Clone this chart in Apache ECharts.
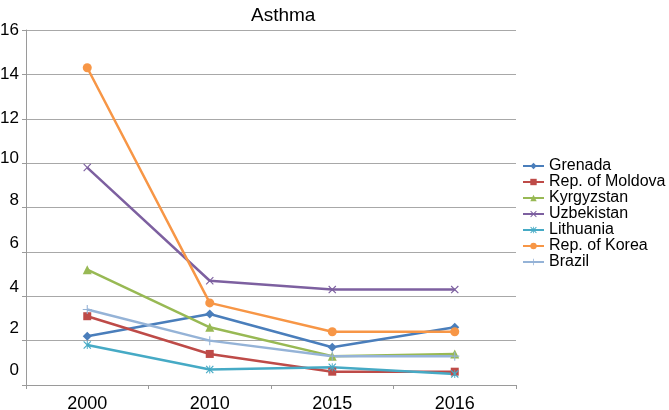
<!DOCTYPE html>
<html>
<head>
<meta charset="utf-8">
<script src="https://cdn.jsdelivr.net/npm/echarts@6/dist/echarts.min.js"></script>
<style>html,body{margin:0;padding:0;background:#fff}#c{width:669px;height:410px}</style>
</head>
<body>
<div id="c"></div>
<script>
var categories = ['2000', '2010', '2015', '2016'];
var grenada = [2.2, 3.2, 1.7, 2.6];
var moldova = [3.1, 1.4, 0.6, 0.6];
var kyrgyzstan = [5.2, 2.6, 1.3, 1.4];
var uzbekistan = [9.8, 4.7, 4.3, 4.3];
var lithuania = [1.8, 0.7, 0.8, 0.5];
var korea = [14.3, 3.7, 2.4, 2.4];
var brazil = [3.4, 2.0, 1.3, 1.3];
var seriesNames = ['Grenada', 'Rep. of Moldova', 'Kyrgyzstan', 'Uzbekistan', 'Lithuania', 'Rep. of Korea', 'Brazil'];
var seriesValues = [grenada, moldova, kyrgyzstan, uzbekistan, lithuania, korea, brazil];

var colors = ['#4a7ebb', '#be4b48', '#98b954', '#7d60a0', '#46aac5', '#f79646', '#95b3d7'];
var X = 'path://M0,1L1,0L5,4L9,0L10,1L6,5L10,9L9,10L5,6L1,10L0,9L4,5Z';
var STAR = 'path://M0,1L1,0L5,4L9,0L10,1L6,5L10,9L9,10L5,6L1,10L0,9L4,5Z M4.4,0H5.6V10H4.4Z';
var PLUS = 'path://M4.4,0H5.6V4.4H10V5.6H5.6V10H4.4V5.6H0V4.4H4.4Z';
var symbols = ['diamond', 'rect', 'triangle', X, STAR, 'circle', PLUS];
var sizes = [9, 8, 9, 8, 8, 9, 9];
var labelShift = {16: 0, 14: 0, 12: 0, 10: 5, 8: 7, 6: 9, 4: 9, 2: 12, 0: 15};
var rich = {};
Object.keys(labelShift).forEach(function (k) {
  rich['o' + k] = { fontSize: 17, color: '#000', fontFamily: 'Liberation Sans', padding: [0, 0, labelShift[k] * 2, 0] };
});

var chart = echarts.init(document.getElementById('c'), null, { renderer: 'canvas' });
chart.setOption({
  animation: false,
  color: colors,
  textStyle: { fontFamily: 'Liberation Sans' },
  title: {
    text: 'Asthma', left: 246, top: 1,
    textStyle: { fontSize: 19, fontWeight: 'normal', color: '#000', fontFamily: 'Liberation Sans' }
  },
  legend: {
    orient: 'vertical', left: 522, top: 158, itemGap: 0, padding: 0,
    itemWidth: 21, itemHeight: 8,
    textStyle: { fontSize: 16, lineHeight: 16, color: '#000', fontFamily: 'Liberation Sans' },
    data: seriesNames
  },
  grid: { left: 26, right: 153, top: 30, bottom: 25, containLabel: false, outerBoundsMode: 'none' },
  xAxis: {
    type: 'category', data: categories, boundaryGap: true,
    axisLine: { lineStyle: { color: '#9a9a9a', width: 1 } },
    axisTick: { show: true, length: 4, lineStyle: { color: '#9a9a9a' } },
    axisLabel: { fontSize: 18, color: '#000', margin: 10, fontFamily: 'Liberation Sans' }
  },
  yAxis: {
    type: 'value', min: 0, max: 16, interval: 2,
    axisLine: { show: true, lineStyle: { color: '#9a9a9a', width: 1 } },
    axisTick: { show: true, length: 4, lineStyle: { color: '#9a9a9a' } },
    splitLine: { lineStyle: { color: '#a8a8a8', width: 1 } },
    axisLabel: {
      margin: 7, color: '#000',
      formatter: function (v) { return '{o' + v + '|' + v + '}'; },
      rich: rich
    }
  },
  series: seriesNames.map(function (n, i) {
    return {
      name: n, type: 'line', data: seriesValues[i],
      symbol: symbols[i], symbolSize: sizes[i], showSymbol: true,
      lineStyle: { width: 2.5, color: colors[i] },
      itemStyle: { color: colors[i] }
    };
  })
});
</script>
</body>
</html>
